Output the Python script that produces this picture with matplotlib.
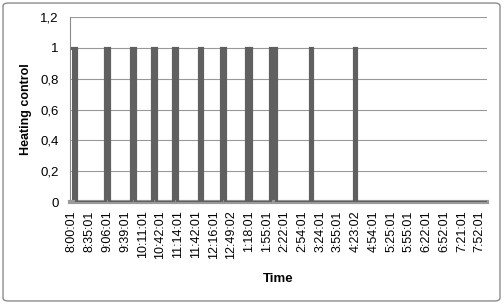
import matplotlib
matplotlib.use("Agg")
import matplotlib.pyplot as plt
from matplotlib.patches import FancyBboxPatch

# Category labels shown on the time axis (one every ~30 samples)
time_labels = ["8:00:01", "8:35:01", "9:06:01", "9:39:01", "10:11:01", "10:42:01",
               "11:14:01", "11:42:01", "12:16:01", "12:49:02", "1:18:01", "1:55:01",
               "2:22:01", "2:54:01", "3:24:01", "3:55:01", "4:23:02", "4:54:01",
               "5:25:01", "5:55:01", "6:22:01", "6:52:01", "7:21:01", "7:52:01"]

# Heating ON periods, in label-position units
on_start = [0.00, 1.89, 3.35, 4.54, 5.72, 7.19, 8.43, 9.84, 10.03, 11.19, 13.44, 15.92]
on_end = [0.25, 2.11, 3.58, 4.76, 5.95, 7.36, 8.65, 9.92, 10.12, 11.53, 13.56, 16.04]
x_end = 23.4

xs, ys = [], []
for s, e in zip(on_start, on_end):
    if s > 0:
        xs += [s, s]
        ys += [0, 1]
    else:
        xs.append(s)
        ys.append(1)
    xs += [e, e]
    ys += [1, 0]
xs.append(x_end)
ys.append(0)

plt.rcParams["font.family"] = ["Liberation Sans", "DejaVu Sans"]

fig = plt.figure(figsize=(5.03, 3.04), dpi=100)
fig.patches.append(FancyBboxPatch((0.006, 0.01), 0.988, 0.98, boxstyle="round,pad=0,rounding_size=0.01",
                                  transform=fig.transFigure, fill=False, edgecolor="#8c8c8c", lw=1.0))

ax = fig.add_axes([0.139, 0.3355, 0.829, 0.6085])
# rapid toggling makes each ON period look solid
for s, e in zip(on_start, on_end):
    ax.axvspan(s, e, ymin=0, ymax=1 / 1.2, color="#606060", lw=0, zorder=2)
ax.plot(xs, ys, color="#606060", lw=2.3, solid_joinstyle="miter", zorder=3)

ax.set_xlim(-0.1, x_end)
ax.set_ylim(0, 1.2)
ax.set_yticks([0, 0.2, 0.4, 0.6, 0.8, 1.0, 1.2])
ax.set_yticklabels(["0", "0,2", "0,4", "0,6", "0,8", "1", "1,2"], fontsize=9.5)
ax.set_xticks(range(len(time_labels)))
ax.set_xticklabels(time_labels, rotation=90, fontsize=9)
ax.tick_params(axis="x", length=0, pad=6)
ax.tick_params(axis="y", length=0, pad=8)
ax.grid(axis="y", color="#999999", lw=0.8)
ax.set_axisbelow(True)

for side in ["top", "right"]:
    ax.spines[side].set_visible(False)
ax.spines["left"].set_color("#8a8a8a")
ax.spines["bottom"].set_color("#9a9a9a")
ax.spines["bottom"].set_linewidth(3)

ax.set_xlabel("Time", fontsize=9.5, fontweight="bold", labelpad=10)
ax.set_ylabel("Heating control", fontsize=9, fontweight="bold", labelpad=6)

fig.savefig("out.png", dpi=100)
